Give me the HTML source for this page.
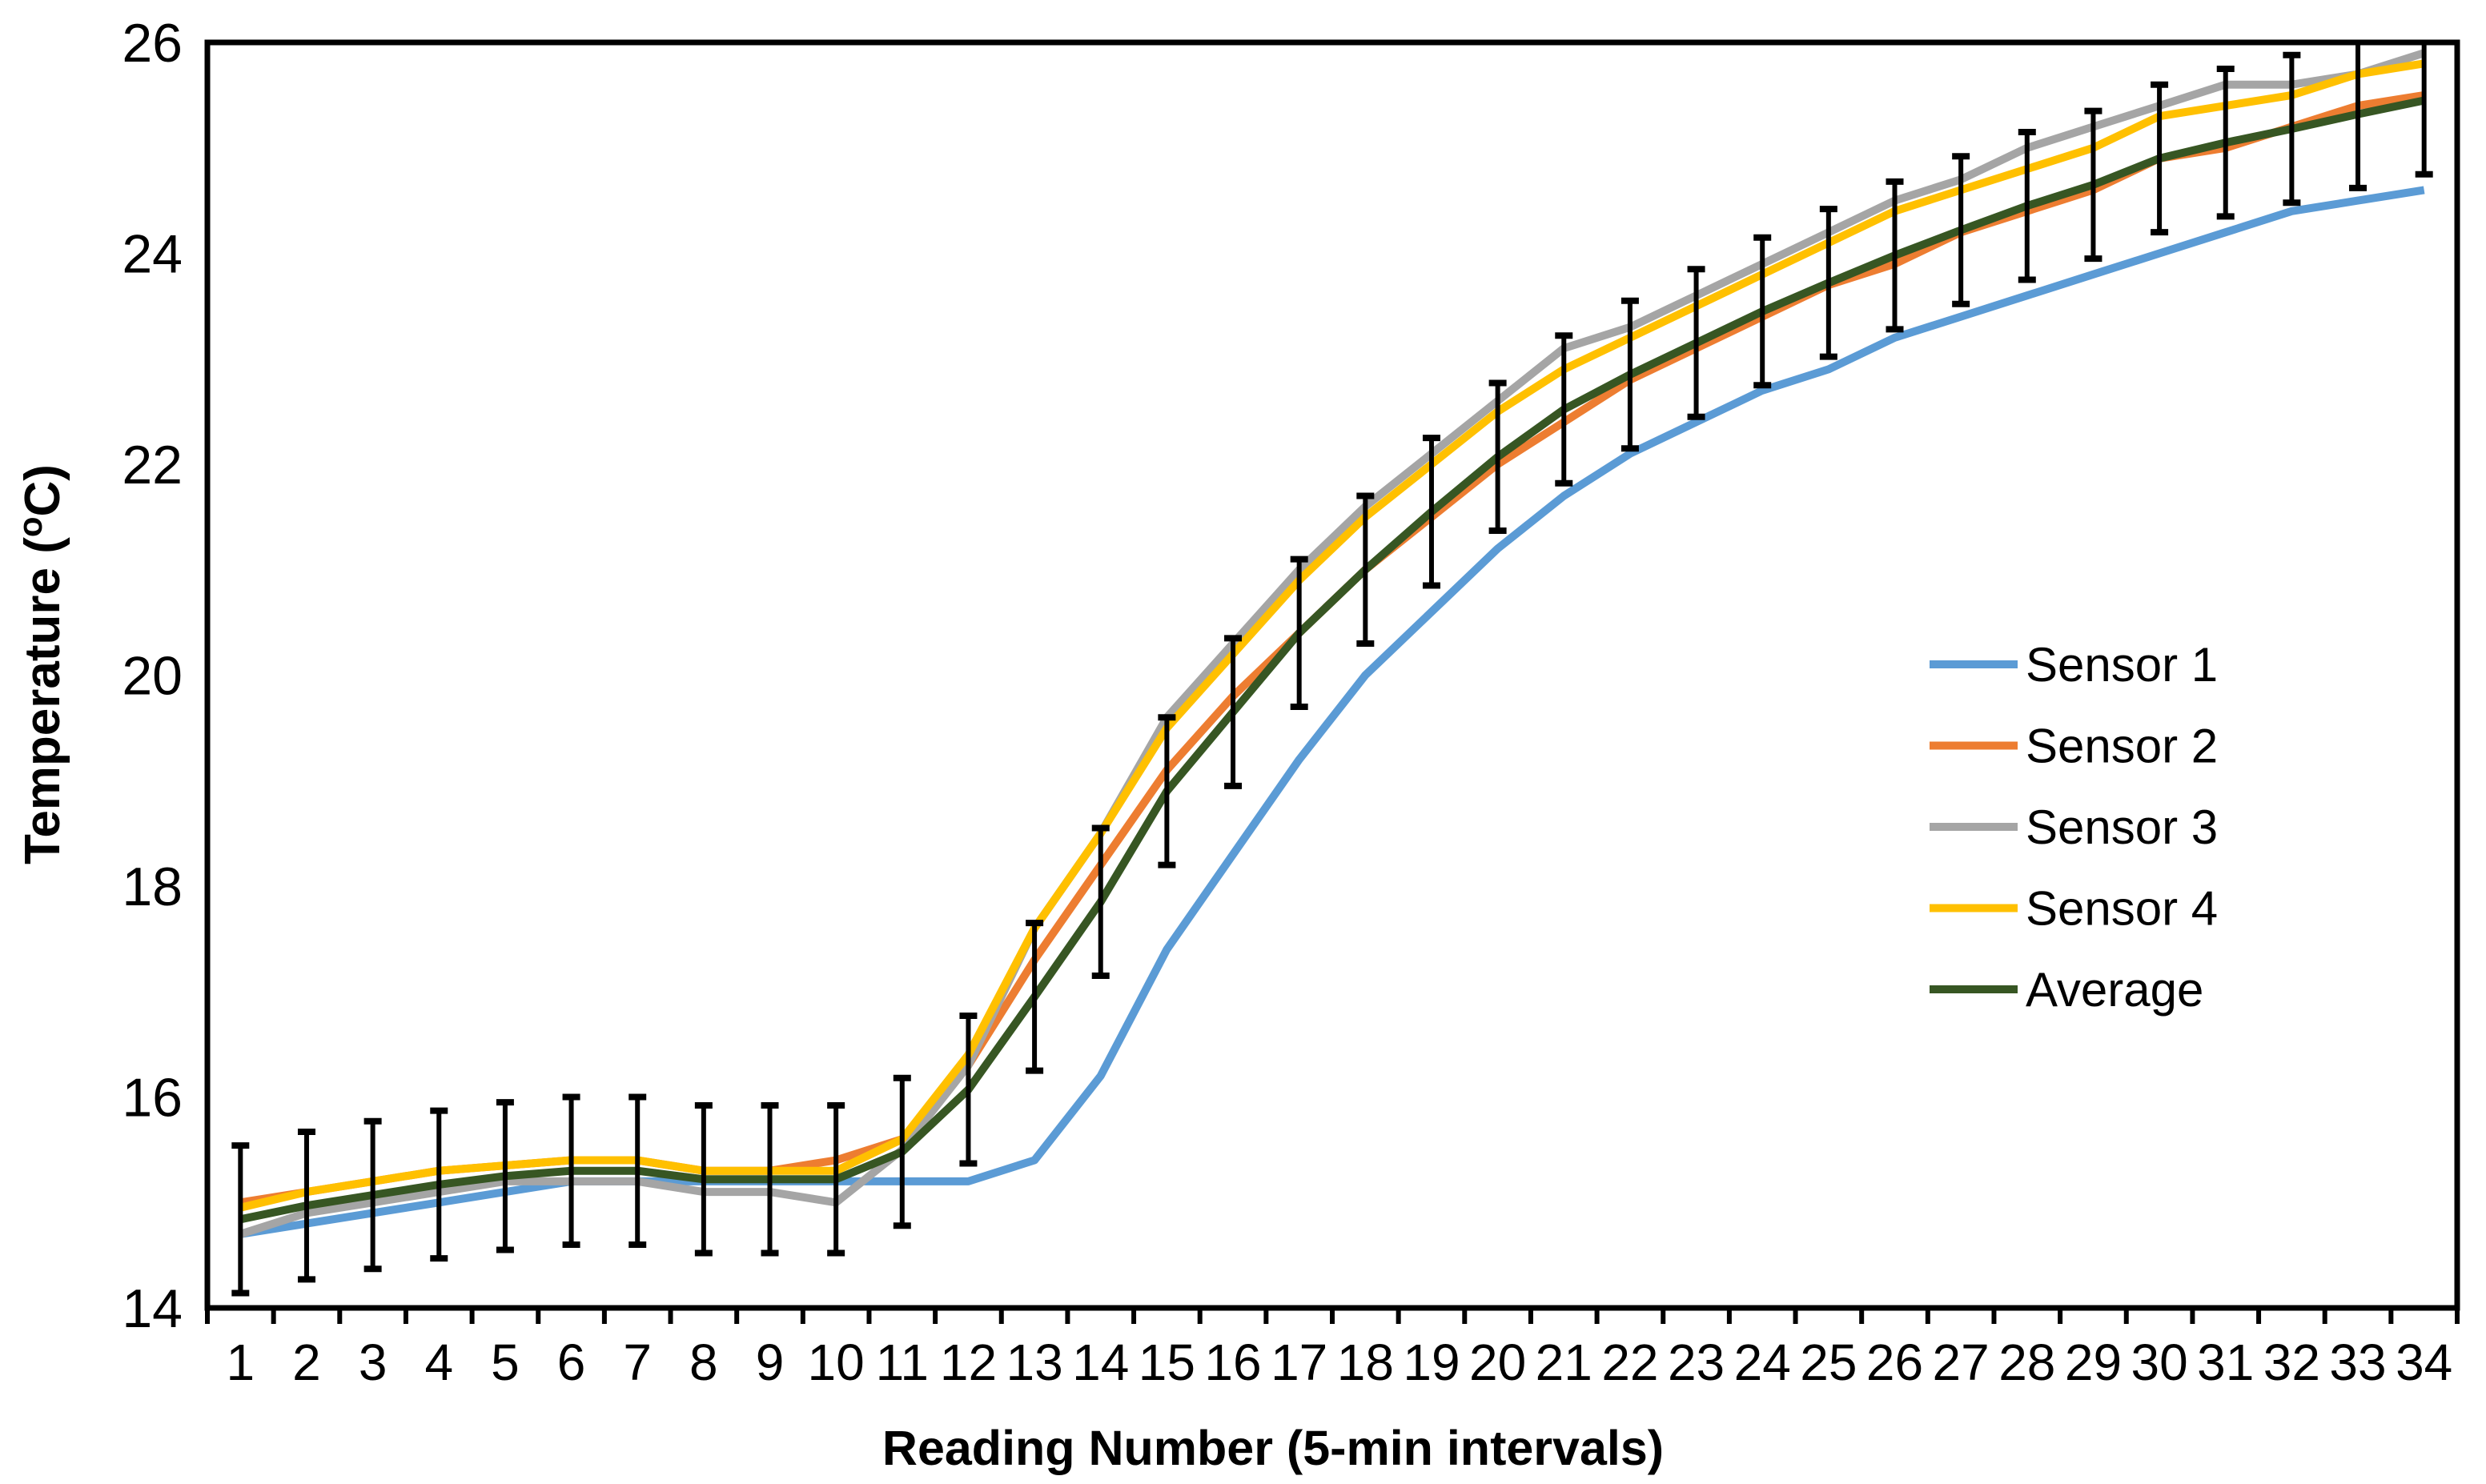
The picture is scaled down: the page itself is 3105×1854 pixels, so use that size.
<!DOCTYPE html>
<html><head><meta charset="utf-8">
<style>
html,body{margin:0;padding:0;background:#fff;}
svg{display:block;font-family:"Liberation Sans",Arial,sans-serif;}
</style></head>
<body>
<svg id="chart" width="3105" height="1854" viewBox="0 0 3105 1854" xmlns="http://www.w3.org/2000/svg">
<rect x="0" y="0" width="3105" height="1854" fill="#fff"/>
<g id="plot"></g>
<text transform="translate(74,830) rotate(-90)" text-anchor="middle" font-size="62" font-weight="bold">Temperature (<tspan font-size="42" dy="-22">o</tspan><tspan dy="22">C)</tspan></text>
<text x="1590" y="1830" text-anchor="middle" font-size="61" font-weight="bold">Reading Number (5-min intervals)</text>
</svg>
<script>
const categories = [1,2,3,4,5,6,7,8,9,10,11,12,13,14,15,16,17,18,19,20,21,22,23,24,25,26,27,28,29,30,31,32,33,34];
const sensor1 = [14.7,14.8,14.9,15.0,15.1,15.2,15.2,15.2,15.2,15.2,15.2,15.2,15.4,16.2,17.4,18.3,19.2,20.0,20.6,21.2,21.7,22.1,22.4,22.7,22.9,23.2,23.4,23.6,23.8,24.0,24.2,24.4,24.5,24.6];
const sensor2 = [15.0,15.1,15.2,15.3,15.35,15.4,15.4,15.3,15.3,15.4,15.6,16.3,17.3,18.2,19.1,19.8,20.4,21.0,21.5,22.0,22.4,22.8,23.1,23.4,23.7,23.9,24.2,24.4,24.6,24.9,25.0,25.2,25.4,25.5];
const sensor3 = [14.7,14.9,15.0,15.1,15.2,15.2,15.2,15.1,15.1,15.0,15.5,16.3,17.6,18.5,19.6,20.3,21.0,21.6,22.1,22.6,23.1,23.3,23.6,23.9,24.2,24.5,24.7,25.0,25.2,25.4,25.6,25.6,25.7,25.9];
const sensor4 = [14.95,15.1,15.2,15.3,15.35,15.4,15.4,15.3,15.3,15.3,15.6,16.4,17.6,18.5,19.5,20.2,20.9,21.5,22.0,22.5,22.9,23.2,23.5,23.8,24.1,24.4,24.6,24.8,25.0,25.3,25.4,25.5,25.7,25.8];
const average = [14.84,14.97,15.07,15.17,15.25,15.3,15.3,15.22,15.22,15.22,15.48,16.07,16.95,17.85,18.9,19.65,20.4,21.0,21.55,22.07,22.52,22.85,23.15,23.45,23.72,23.98,24.22,24.45,24.65,24.9,25.05,25.18,25.32,25.45];
const errors = [0.7,0.7,0.7,0.7,0.7,0.7,0.7,0.7,0.7,0.7,0.7,0.7,0.7,0.7,0.7,0.7,0.7,0.7,0.7,0.7,0.7,0.7,0.7,0.7,0.7,0.7,0.7,0.7,0.7,0.7,0.7,0.7,0.7,0.7];
const yTicks = [14,16,18,20,22,24,26];
const seriesNames = ["Sensor 1","Sensor 2","Sensor 3","Sensor 4","Average"];

const NS="http://www.w3.org/2000/svg";
const L=259,R=3069,T=53,B=1634,yMin=14,yMax=26;
const bw=(R-L)/categories.length;
const xs=i=>L+bw*(i+0.5);
const ys=v=>B-(v-yMin)/(yMax-yMin)*(B-T);
const g=document.getElementById('plot');
function mk(tag,attrs,parent){const e=document.createElementNS(NS,tag);for(const k in attrs)e.setAttribute(k,attrs[k]);(parent||g).appendChild(e);return e;}

const defs=mk('defs',{});
const cp=mk('clipPath',{id:'clip'},defs);
mk('rect',{x:L,y:T-2,width:R-L,height:B-T+4},cp);

const series=[sensor1,sensor2,sensor3,sensor4,average];
const colors=["#5b9bd5","#ed7d31","#a5a5a5","#ffc000","#375623"];
const lg=mk('g',{'clip-path':'url(#clip)'});
series.forEach((s,si)=>{
  const d=s.map((v,i)=>(i?'L':'M')+xs(i).toFixed(1)+','+ys(v).toFixed(1)).join('');
  const p=mk('path',{d:d,fill:'none',stroke:colors[si],'stroke-width':10,'stroke-linejoin':'round'},lg);
  
  
});
average.forEach((v,i)=>{
  const x=xs(i),y1=ys(v+errors[i]),y2=ys(v-errors[i]);
  const eg=mk('g',{stroke:'#000','stroke-width':6},lg);
  
  
  mk('line',{x1:x,y1:y1,x2:x,y2:y2},eg);
  mk('line',{x1:x-11,y1:y1,x2:x+11,y2:y1,'stroke-width':8},eg);
  mk('line',{x1:x-11,y1:y2,x2:x+11,y2:y2,'stroke-width':8},eg);
});

const frame=mk('rect',{x:L,y:T,width:R-L,height:B-T,fill:'none',stroke:'#000','stroke-width':7});



for(let k=0;k<=categories.length;k++){
  const x=L+bw*k;
  const t=mk('line',{x1:x,y1:B,x2:x,y2:B+20,stroke:'#000','stroke-width':6});
  
  
}
categories.forEach((c,i)=>{
  const t=mk('text',{x:xs(i),y:1724,'text-anchor':'middle','font-size':64});
  t.textContent=c;
  
  
});
yTicks.forEach(v=>{
  const t=mk('text',{x:228,y:ys(v)+24,'text-anchor':'end','font-size':68});
  t.textContent=v;
  
  
});

const legend=mk('g',{});


seriesNames.forEach((n,i)=>{
  const y=830+i*101.5;
  const eg=mk('g',{},legend);
  
  
  mk('line',{x1:2410,y1:y,x2:2520,y2:y,stroke:colors[i],'stroke-width':10},eg);
  const t=mk('text',{x:2530,y:y+21,'font-size':60},eg);
  t.textContent=n;
});
</script>
</body></html>
